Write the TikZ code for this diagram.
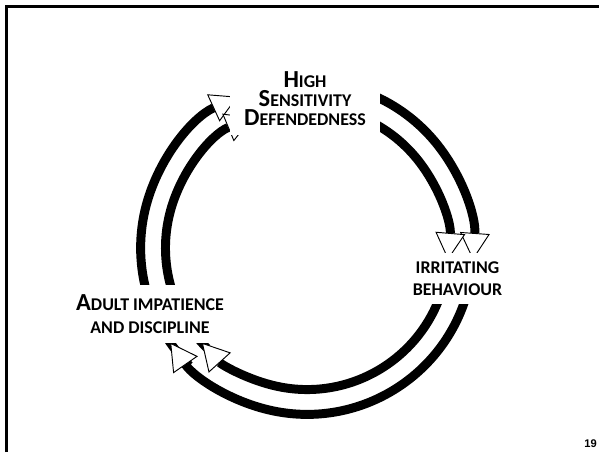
\documentclass[tikz,border=0pt]{standalone}
\usepackage{fontspec}
\setmainfont{Carlito}
\newfontfamily\pagefont{Liberation Sans}
\usetikzlibrary{calc}
\usetikzlibrary{arrows.meta}

\newcommand{\initcap}[1]{{\fontsize{20.9}{17}\selectfont #1}}

\tikzset{
  cyclearc/.style={line width=7.65pt, -{Triangle[length=23pt, width=25.5pt, fill=white, line width=0.8pt]}},
  stage/.style={fill=white, inner sep=0pt, align=center, font=\bfseries\fontsize{15.3}{#1}\selectfont}
}

\begin{document}
\begin{tikzpicture}[x=.03cm, y=.03cm]
\useasboundingbox (0,0) rectangle (599,452);
\draw[line width=2.1pt] (6.5,0) |- (599,445.5);
\coordinate (o) at (307,204);

% left arc first, so the heads at the bottom lie on top of its tail
\foreach \s/\e/\r in {225/114.6/142pt, 225/112.5/120.8pt, 100/-4.1/142pt, 100/-4.8/120.8pt, -12/-145.3/142pt, -12/-138/120.8pt}
  \draw[cyclearc] ($(o)+(\s:\r)$) arc[start angle=\s, end angle=\e, radius=\r];

\node[stage=16, minimum width=127.6pt, minimum height=63pt] (high) at (305,353.5) {\initcap{H}IGH\\ \initcap{S}ENSITIVITY\\ \initcap{D}EFENDEDNESS};
\node[stage=18.7, minimum width=89.3pt, minimum height=44.2pt] (irritating) at (457.5,173.5) {IRRITATING\\ BEHAVIOUR};
\node[stage=19.6, minimum width=136pt, minimum height=49.3pt] (adult) at (150,138) {\initcap{A}DULT IMPATIENCE\\ AND DISCIPLINE};

\node[anchor=base east, inner sep=0pt, font=\pagefont\bfseries\fontsize{9.5}{11}\selectfont] (page) at (597,5) {19};
\end{tikzpicture}
\end{document}
